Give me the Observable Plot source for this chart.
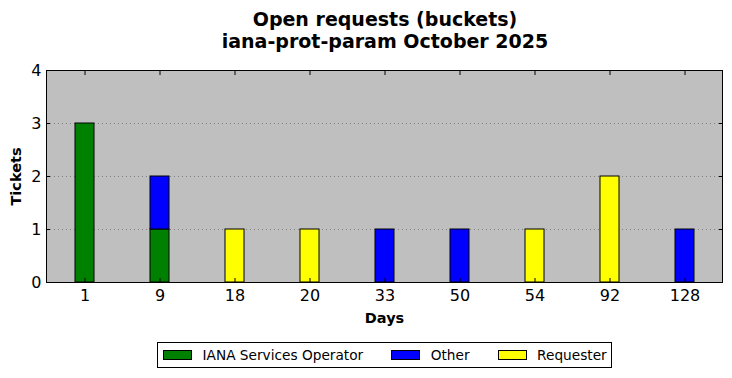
<!DOCTYPE html>
<html>
<head>
<meta charset="utf-8">
<script src="https://cdn.jsdelivr.net/npm/d3@7"></script>
<script src="https://cdn.jsdelivr.net/npm/@observablehq/plot@0.6"></script>
<style>
  html, body { margin: 0; padding: 0; background: #ffffff; }
  #wrap { position: relative; width: 732px; height: 378px; font-family: "DejaVu Sans", sans-serif; color: #000; overflow: hidden; }
  #title { position: absolute; left: 47px; top: 9px; width: 676px; text-align: center; font-weight: bold; font-size: 19px; line-height: 21.5px; }
  #chart { position: absolute; left: 0; top: 60px; }
  #legend { position: absolute; left: 157px; top: 342px; width: 448px; height: 24px; border: 1px solid #000; display: flex; align-items: center; padding-left: 5px; box-sizing: content-box; font-size: 13.7px; background: #fff; }
  .item { display: flex; align-items: center; margin-right: 28px; white-space: nowrap; }
  .sw { width: 29px; height: 10px; box-sizing: border-box; border: 1px solid #000; margin-right: 10.5px; }
</style>
</head>
<body>
<div id="wrap">
  <div id="title"></div>
  <div id="chart"></div>
  <div id="legend"></div>
</div>
<script>
const titleLines = ["Open requests (buckets)", "iana-prot-param October 2025"];
const days = ["1", "9", "18", "20", "33", "50", "54", "92", "128"];
const seriesNames = ["IANA Services Operator", "Other", "Requester"];
const seriesColors = ["#008000", "#0000ff", "#ffff00"];
const ianaCounts = [3, 1, 0, 0, 0, 0, 0, 0, 0];
const otherCounts = [0, 1, 0, 0, 1, 1, 0, 0, 1];
const requesterCounts = [0, 0, 1, 1, 0, 0, 1, 2, 0];
const yTicks = [0, 1, 2, 3, 4];
const gridTicks = [1, 2, 3];
const xLabel = "Days";
const yLabel = "Tickets";

const seriesValues = [ianaCounts, otherCounts, requesterCounts];
const rows = [];
days.forEach((d, i) => {
  seriesNames.forEach((s, j) => {
    const v = seriesValues[j][i];
    if (v > 0) rows.push({day: d, series: s, value: v});
  });
});

document.getElementById("title").innerHTML = titleLines.map(t => `<div>${t}</div>`).join("");

const chart = Plot.plot({
  width: 732,
  height: 275,
  marginTop: 10,
  marginBottom: 53,
  marginLeft: 46,
  marginRight: 10,
  style: {fontFamily: "DejaVu Sans", fontSize: "16px", color: "black", background: "transparent", overflow: "visible"},
  x: {type: "band", domain: days, padding: 0, label: null},
  y: {domain: [0, 4], label: null},
  color: {domain: seriesNames, range: seriesColors},
  marks: [
    Plot.frame({fill: "#bfbfbf"}),
    Plot.ruleY(gridTicks, {stroke: "#808080", strokeDasharray: "1,3"}),
    Plot.barY(rows, Plot.stackY({x: "day", y: "value", fill: "series", order: seriesNames, stroke: "black", strokeWidth: 1, insetLeft: 28, insetRight: 28})),
    Plot.frame({stroke: "black", strokeWidth: 1}),
    Plot.axisY({ticks: yTicks, tickSize: -4, tickPadding: 9, tickFormat: d => String(d), label: null}),
    Plot.axisY({anchor: "right", ticks: yTicks, tickSize: -4, tickFormat: () => "", label: null}),
    Plot.axisX({anchor: "bottom", tickSize: -4, tickPadding: 11, label: null}),
    Plot.axisX({anchor: "top", tickSize: -4, tickFormat: () => "", label: null}),
    Plot.text([xLabel], {text: d => d, frameAnchor: "bottom", lineAnchor: "middle", dy: 36, fontWeight: "bold", fontSize: 14.5}),
    Plot.text([yLabel], {text: d => d, frameAnchor: "left", textAnchor: "middle", lineAnchor: "middle", rotate: -90, dx: -30, fontWeight: "bold", fontSize: 14.5})
  ]
});
document.getElementById("chart").appendChild(chart);

const legend = document.getElementById("legend");
seriesNames.forEach((s, i) => {
  const item = document.createElement("div");
  item.className = "item";
  item.innerHTML = `<div class="sw" style="background:${seriesColors[i]}"></div><span>${s}</span>`;
  legend.appendChild(item);
});
</script>
</body>
</html>
